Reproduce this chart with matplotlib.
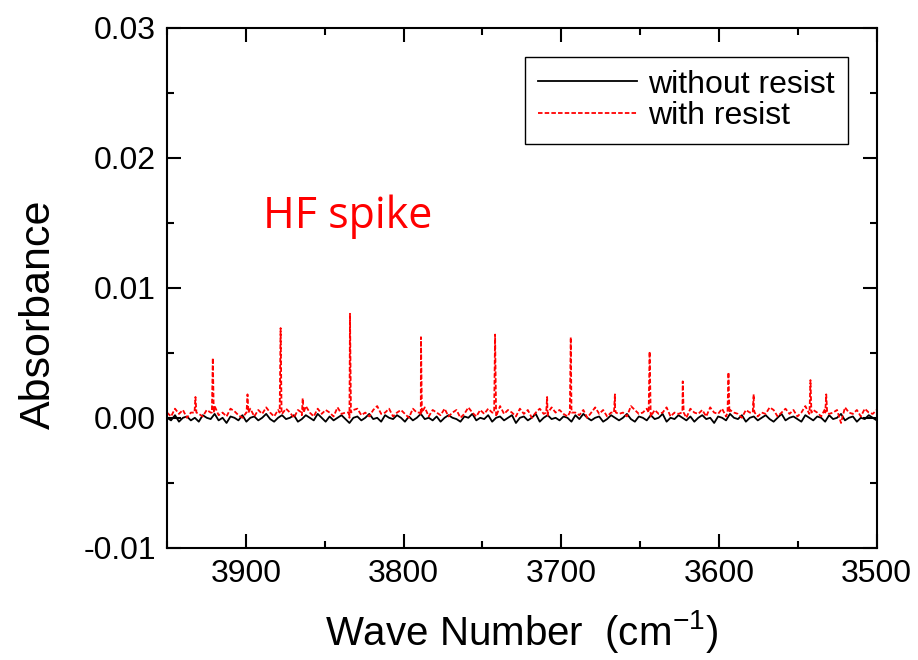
import numpy as np
import matplotlib
matplotlib.use("Agg")
import matplotlib.pyplot as plt
from matplotlib.ticker import MultipleLocator

plt.rcParams['font.family'] = ['Liberation Sans', 'DejaVu Sans']
plt.rcParams['mathtext.fontset'] = 'custom'
plt.rcParams['mathtext.rm'] = 'Liberation Sans'
plt.rcParams['mathtext.it'] = 'Liberation Sans'

# baseline noise, units of 1e-4 absorbance, sampled evenly from 3950 down to 3500 cm-1
black_noise = [0, -2, 2, -3, 0, 1, -2, 0, -3, 2, 0, -1, 3, -2, 0, -4, 1, 0, -2, 2, -3, 0, 1, -2, 0, 3, -1, -3, 0, 2,
               -1, 0, 2, -3, -1, 2, 0, -2, 3, 0, -3, 1, -2, 0, 2, -1, -4, 0, 1, -2, 0, 3, -1, 0, -3, 2, 0, -1, 2, 0,
               -3, 1, -2, 0, 3, -1, 0, -2, 1, -3, 0, 2, 0, -1, -3, 1, 0, 3, -2, 0, -1, 2, -3, 0, 1, -2, 0, 2, -4, 0,
               1, -2, 0, 3, -3, 0, 2, -1, 0, -2, 1, 0, -3, 2, -1, 3, 0, -2, 0, 1, -3, -1, 2, 0, -2, 0, 3, -1, -3, 1,
               0, -2, 2, -1, 0, 3, -3, 0, -1, 2, 0, -2, 1, -3, 0, 2, -1, 0, -4, 1, 0, -2, 3, 0, -1, 2, -3, 0, 1, -2,
               0, 2, -1, -3, 0, 3, -2, 0, 1, -1, -3, 2, 0, -2, 1, 0, -3, 2, -1, 0, 3, -2, 0, 1, -3, 0, -1, 2, 0, -2]

red_noise = [4, 1, 7, 3, 6, 0, 4, 8, 3, 1, 6, 4, 9, 2, 4, 1, 7, 5, 2, 0, 4, 7, 1, 6, 3, 8, 4, 1, 6, 3,
             7, 4, 0, 6, 2, 9, 4, 1, 7, 3, 6, 4, 1, 8, 3, 4, 0, 6, 7, 2, 4, 1, 6, 9, 3, 4, 7, 1, 4, 6,
             3, 0, 7, 4, 2, 8, 1, 6, 4, 2, 7, 1, 4, 6, 0, 3, 8, 4, 1, 6, 3, 7, 4, 1, 9, 3, 6, 4, 1, 7,
             3, 6, 0, 4, 7, 3, 1, 8, 4, 6, 3, 1, 7, 4, 2, 6, 0, 4, 8, 3, 6, 1, 4, 7, 3, 4, 1, 9, 6, 3,
             4, 7, 1, 6, 3, 4, 8, 1, 4, 3, 6, 0, 7, 4, 3, 6, 1, 8, 4, 3, 7, 1, 6, 4, 3, 0, 6, 4, 7, 1,
             4, 3, 8, 6, 1, 4, 7, 3, 6, 1, 4, 9, 3, 6, 4, 1, 7, 3, 4, 6, -4, 8, 4, 3, 6, 1, 7, 4, 3, 6]

# HF rotational lines seen in the "with resist" spectrum
spike_pos = [3932, 3921, 3899, 3878, 3864, 3834, 3789, 3742, 3709, 3694,
             3666, 3644, 3623, 3594, 3578, 3542, 3532]
spike_val = [0.0016, 0.0046, 0.0018, 0.0069, 0.0015, 0.0080, 0.0062, 0.0064, 0.0016, 0.0062,
             0.0018, 0.0051, 0.0028, 0.0035, 0.0018, 0.0029, 0.0018]
spike_base = 0.0004

wn_black = np.linspace(3950, 3500, len(black_noise))
abs_black = np.array(black_noise) * 1e-4

wn_red = np.linspace(3950, 3500, len(red_noise))
abs_red = np.array(red_noise) * 1e-4
# merge narrow spikes into the red trace
sx = np.concatenate([wn_red, spike_pos, np.array(spike_pos) - 0.6, np.array(spike_pos) + 0.6])
sy = np.concatenate([abs_red, spike_val, [spike_base] * len(spike_pos), [spike_base] * len(spike_pos)])
order = np.argsort(sx)[::-1]
sx, sy = sx[order], sy[order]

fig = plt.figure(figsize=(9.18, 6.6), dpi=100)
ax = fig.add_axes([0.182, 0.170, 0.773, 0.788])

ax.plot(wn_black, abs_black, color='black', lw=1.3, label='without resist')
ax.plot(sx, sy, color='red', lw=1.3, dashes=(2.5, 1.2), label='with resist')

ax.set_xlim(3950, 3500)
ax.set_ylim(-0.01, 0.03)
ax.xaxis.set_major_locator(MultipleLocator(100))
ax.xaxis.set_minor_locator(MultipleLocator(50))
ax.yaxis.set_major_locator(MultipleLocator(0.01))
ax.yaxis.set_minor_locator(MultipleLocator(0.005))
ax.yaxis.set_major_formatter(plt.FormatStrFormatter('%.2f'))

ax.tick_params(which='both', direction='in', top=True, right=True, width=1.5, labelsize=23)
ax.tick_params(which='major', length=10, pad=8)
ax.tick_params(which='minor', length=5)
for s in ax.spines.values():
    s.set_linewidth(1.5)

ax.set_xlabel('Wave Number  (cm$^{-1}$)', fontsize=29, labelpad=14)
ax.set_ylabel('Absorbance', fontsize=31)
ax.yaxis.set_label_coords(-0.152, 0.45)

ax.text(3889, 0.0146, 'HF spike', color='red', fontsize=31, family=['Open Sans', 'DejaVu Sans'],
        va='baseline')

leg = ax.legend(loc='upper right', bbox_to_anchor=(0.959, 0.944), borderaxespad=0,
                fontsize=23, fancybox=False, framealpha=1, edgecolor='black',
                handlelength=3.1, handletextpad=0.36, borderpad=0.4, labelspacing=0.05)
leg.get_frame().set_linewidth(1.0)

fig.savefig('out.png', dpi=100)
